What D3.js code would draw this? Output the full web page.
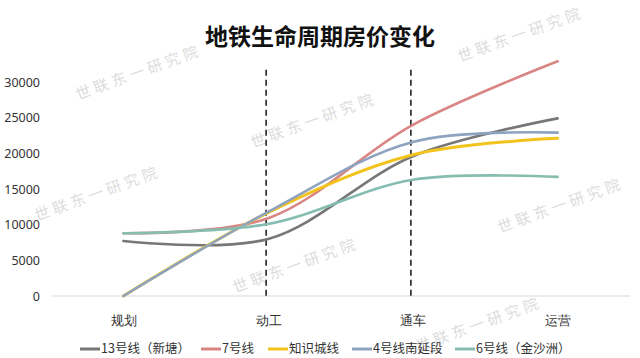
<!DOCTYPE html>
<html><head><meta charset="utf-8">
<script src="https://cdn.jsdelivr.net/npm/d3@7"></script>
<style>body{margin:0;background:#fff;}svg{display:block;font-family:"Noto Sans CJK SC","Noto Sans",sans-serif;}</style>
</head><body><svg id="c" width="640" height="358"></svg>
<script>
const categories = ["规划","动工","通车","运营"];
const seriesNames = ["13号线（新塘）","7号线","知识城线","4号线南延段","6号线（金沙洲）"];
const line13 = [7700, 8000, 19600, 24900];
const line7 = [8800, 10900, 24000, 32900];
const lineZSC = [0, 11700, 19800, 22100];
const line4S = [0, 11800, 21600, 22900];
const line6 = [8800, 10100, 16300, 16700];
const seriesColors = ["#777777","#d98583","#f2c31c","#8ea3bf","#86bdb0"];
const yTicks = [0,5000,10000,15000,20000,25000,30000];
const markerCats = ["动工","通车"];
const title = "地铁生命周期房价变化";
const watermark = "世联东一研究院";

const svg = d3.select("#c");
const mLeft = 51, mRight = 630, mTop = 82, mBottom = 296;
const x = d3.scalePoint().domain(categories).range([mLeft, mRight]).padding(0.5);
const y = d3.scaleLinear().domain([0, 30000]).range([mBottom, mTop]);

// watermarks
const wm = [[78,100],[37,221],[253,148],[235,293],[500,233],[460,62],[418,352]];
svg.append("g").selectAll("text").data(wm).join("text")
  .attr("transform", d => `translate(${d[0]},${d[1]}) rotate(-20)`)
  .attr("font-size", 15).attr("letter-spacing", 4)
  .attr("fill", "#dcdcdc").text(watermark);

// title
svg.append("text").attr("x", 320).attr("y", 45).attr("text-anchor","middle")
  .attr("font-size", 23).attr("font-weight","bold").attr("fill","#111").text(title);

// y axis
const yAxis = d3.axisLeft(y).tickValues(yTicks).tickSize(0).tickPadding(0).tickFormat(d3.format("d"));
const gy = svg.append("g").attr("transform", `translate(40,0)`).call(yAxis);
gy.select(".domain").remove();
gy.selectAll("text").attr("font-size", 12.5).attr("fill","#333").attr("font-family","'Noto Sans','Open Sans',sans-serif");

// x axis
const xAxis = d3.axisBottom(x).tickSize(0).tickPadding(20);
const gx = svg.append("g").attr("transform", `translate(0,${mBottom})`).call(xAxis);
gx.select(".domain").attr("stroke","#d9d9d9").attr("d", `M${mLeft},0H${mRight}`);
gx.selectAll("text").attr("font-size", 12.5).attr("fill","#333");

// dashed marker lines
svg.append("g").selectAll("line").data(markerCats).join("line")
  .attr("x1", d => x(d) - 2).attr("x2", d => x(d) - 2)
  .attr("y1", y(31700)).attr("y2", mBottom)
  .attr("stroke","#222").attr("stroke-width",1.6).attr("stroke-dasharray","6,4");

// series
const series = [line13, line7, lineZSC, line4S, line6];
const lineGen = d3.line().x((d,i) => x(categories[i])).y(d => y(d)).curve(d3.curveCatmullRom.alpha(0.5));
svg.append("g").selectAll("path").data(series).join("path")
  .attr("d", lineGen).attr("fill","none")
  .attr("stroke", (d,i) => seriesColors[i])
  .attr("stroke-width", (d,i) => i === 2 ? 3 : 2.6)
  .attr("stroke-linecap","round");

// legend
const legendX = [80, 201, 268, 352, 455];
const lg = svg.append("g").selectAll("g").data(seriesNames).join("g")
  .attr("transform", (d,i) => `translate(${legendX[i]},349)`);
lg.append("line").attr("x1",0).attr("x2",20).attr("y1",0).attr("y2",0)
  .attr("stroke",(d,i)=>seriesColors[i]).attr("stroke-width",3);
lg.append("text").attr("x",21).attr("y",4.3).attr("font-size",12.5).attr("fill","#333").text(d=>d);
</script></body></html>
